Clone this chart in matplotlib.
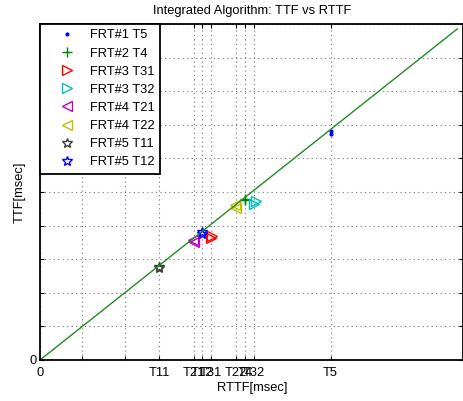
import matplotlib.pyplot as plt
import numpy as np

plt.rcParams['font.family'] = ['Liberation Sans', 'DejaVu Sans']

# RTTF (x) and TTF (y) samples per signal, msec
labels = ['FRT#1 T5', 'FRT#2 T4', 'FRT#3 T31', 'FRT#3 T32',
          'FRT#4 T21', 'FRT#4 T22', 'FRT#5 T11', 'FRT#5 T12']
rttf = [[68.6, 68.6], [48.5, 48.5], [40.4, 40.7], [50.6, 50.9],
        [36.4, 36.1], [46.3, 46.0], [28.1, 28.1], [38.3, 38.3]]
ttf = [[67.2, 68.2], [47.6, 47.9], [36.2, 37.0], [46.5, 47.2],
       [35.1, 35.8], [45.3, 46.0], [27.3, 27.8], [37.5, 38.0]]
markers = ['.', '+', '>', '>', '<', '<', '*', '*']
colors = [(0, 0, 1), (0, 0.5, 0), (1, 0, 0), (0, 0.75, 0.75),
          (0.75, 0, 0.75), (0.75, 0.75, 0), (0.25, 0.25, 0.25), (0, 0, 1)]

xticks = [0, 10, 20, 28.1, 36.4, 38.3, 40.4, 46.3, 48.5, 50.6, 68.6]
xticklabels = ['0', '', '', 'T11', 'T21', 'T12', 'T31', 'T22', 'T4', 'T32', 'T5']
yticks = np.arange(0, 101, 10)
yticklabels = ['0'] + [''] * 10
line_end = 98.5

fig = plt.figure(figsize=(4.64, 4.01), dpi=100)
ax = fig.add_axes([40 / 464, 41 / 401, 423.5 / 464, 336 / 401])

for xs, ys, m, c, lab in zip(rttf, ttf, markers, colors, labels):
    if m == '.':
        ax.plot(xs, ys, linestyle='none', marker=m, color=c, ms=4, label=lab)
    else:
        ax.plot(xs, ys, linestyle='none', marker=m, color=c, mfc='none',
                ms=7.5, mew=1.0, label=lab)
ax.plot([0, line_end], [0, line_end], color=(0.13, 0.55, 0.13), lw=1.0)

ax.set_xlim(0, 100)
ax.set_ylim(0, 100)
ax.set_xticks(xticks)
ax.set_xticklabels(xticklabels, fontsize=9.3)
ax.set_yticks(yticks)
ax.set_yticklabels(yticklabels, fontsize=9.3)
ax.tick_params(direction='in', length=3, width=0.8, top=True, right=True, pad=2)
ax.tick_params(axis='x', pad=5)
ax.grid(True, color='0.45', linestyle=(0, (1, 3)), linewidth=0.8)
for s in ax.spines.values():
    s.set_linewidth(1.3)

ax.set_title('Integrated Algorithm: TTF vs RTTF', fontsize=9.3, pad=7)
ax.set_xlabel('RTTF[msec]', fontsize=9.3, labelpad=2)
ax.set_ylabel('TTF[msec]', fontsize=9.3, labelpad=3)

leg = ax.legend(loc='upper left', borderaxespad=0, fancybox=False,
                edgecolor='black', framealpha=1, fontsize=9.3,
                handlelength=3.3, handletextpad=0.15, labelspacing=0.47,
                borderpad=0.42)
leg.get_frame().set_linewidth(1.3)

plt.savefig('out.png', dpi=100)
